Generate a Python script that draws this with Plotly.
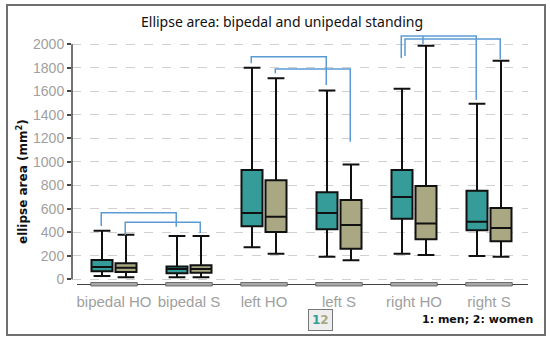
import plotly.graph_objects as go

# ---------------- data ----------------
categories = ["bipedal HO", "bipedal S", "left HO", "left S", "right HO", "right S"]
series_names = ["men", "women"]

men_lower = [28, 17, 272, 193, 218, 198]
men_q1 = [68, 51, 451, 425, 516, 417]
men_median = [105, 88, 564, 564, 700, 490]
men_q3 = [164, 110, 930, 740, 930, 754]
men_upper = [414, 368, 1801, 1608, 1622, 1494]

women_lower = [17, 17, 218, 162, 207, 193]
women_q1 = [62, 56, 403, 260, 340, 323]
women_median = [99, 88, 533, 462, 476, 437]
women_q3 = [136, 119, 843, 675, 794, 607]
women_upper = [380, 368, 1711, 978, 1988, 1860]

# significance brackets: (cat_a, series_a, cat_b, series_b, top, end_a, end_b)
brackets = [
    (0, 0, 1, 0, 567, 454, 448),
    (0, 1, 1, 1, 485, 377, 391),
    (2, 0, 3, 0, 1894, 1838, 1654),
    (2, 1, 3, 1, 1790, 1753, 1171),
    (4, 0, 5, 0, 2071, 1883, 1526),
    (4, 0, 5, 1, 2045, 1900, 1875),
]

y_ticks = list(range(0, 2001, 200))

# ---------------- style ----------------
TEAL = "#359c9a"
KHAKI = "#a9a883"
colors = [TEAL, KHAKI]
offsets = [-0.16, 0.16]
bracket_off = [-0.17, 0.15]

fig = go.Figure()

stats = [
    (men_lower, men_q1, men_median, men_q3, men_upper),
    (women_lower, women_q1, women_median, women_q3, women_upper),
]
for s, (lo, q1, med, q3, up) in enumerate(stats):
    fig.add_trace(go.Box(
        name=series_names[s],
        x=[i + offsets[s] for i in range(len(categories))],
        lowerfence=lo, q1=q1, median=med, q3=q3, upperfence=up,
        width=0.28, whiskerwidth=0.8,
        fillcolor=colors[s],
        line=dict(color="#111111", width=2),
        boxpoints=False, hoverinfo="skip", showlegend=False,
    ))

# brackets
for (ca, sa, cb, sb, top, ea, eb) in brackets:
    xa = ca + bracket_off[sa] + (0.05 if (ca == 4 and sb == 1) else 0)
    xb = cb + bracket_off[sb]
    fig.add_trace(go.Scatter(
        x=[xa, xa, xb, xb], y=[ea, top, top, eb], mode="lines",
        line=dict(color="#5b9bd5", width=1.5), hoverinfo="skip", showlegend=False,
    ))
# extra short tick at right HO women
fig.add_trace(go.Scatter(
    x=[4 + 0.12, 4 + 0.12], y=[2071, 2002], mode="lines",
    line=dict(color="#5b9bd5", width=1.5), hoverinfo="skip", showlegend=False,
))

shapes = []
# outer border
shapes.append(dict(type="rect", xref="paper", yref="paper",
                   x0=(7 - 72) / 456, x1=(545 - 72) / 456,
                   y0=(286 - 335) / 258, y1=(286 - 5) / 258,
                   line=dict(color="#6f6f6f", width=2), layer="below"))
# y axis line (0 .. 2000)
shapes.append(dict(type="line", xref="paper", yref="y", x0=0, x1=0,
                   y0=0, y1=2000, line=dict(color="#444", width=1.5)))
# x axis line
shapes.append(dict(type="line", xref="paper", yref="paper",
                   x0=(77 - 72) / 456, x1=1, y0=(286 - 284.5) / 258, y1=(286 - 284.5) / 258,
                   line=dict(color="#444", width=1)))
# category bars on x axis
for i in range(len(categories)):
    shapes.append(dict(type="rect", xref="x", yref="paper",
                       x0=i - 0.31, x1=i + 0.31,
                       y0=(286 - 286) / 258, y1=(286 - 282.5) / 258,
                       fillcolor="#a8a8a8", line=dict(color="#555", width=0.8)))

annotations = [
    dict(text="Ellipse area: bipedal and unipedal standing", xref="paper", yref="paper",
         x=(282 - 72) / 456, y=(286 - 22) / 258, showarrow=False,
         font=dict(family="Noto Sans", size=14, color="#111"), xanchor="center", yanchor="middle"),
    dict(text="ellipse area (mm<sup>2</sup>)", xref="paper", yref="paper",
         x=(22 - 72) / 456, y=(286 - 182) / 258, showarrow=False, textangle=-90,
         font=dict(family="DejaVu Sans", size=12, color="#111", weight="bold"),
         xanchor="center", yanchor="middle"),
    dict(text="1: men; 2: women", xref="paper", yref="paper",
         x=(535 - 72) / 456, y=(286 - 319) / 258, showarrow=False,
         font=dict(family="DejaVu Sans", size=11, color="#111", weight="bold"),
         xanchor="right", yanchor="middle"),
    dict(text=f"<span style='color:{TEAL}'>1</span><span style='color:{KHAKI}'>2</span>",
         xref="paper", yref="paper",
         x=(320 - 72) / 456, y=(286 - 320) / 258, showarrow=False,
         font=dict(family="DejaVu Sans", size=12, weight="bold"),
         bgcolor="#eeeeee", bordercolor="#777", borderwidth=1, borderpad=3,
         xanchor="center", yanchor="middle"),
]

fig.update_layout(
    width=550, height=342,
    margin=dict(l=72, r=22, t=28, b=56),
    paper_bgcolor="white", plot_bgcolor="white",
    shapes=shapes, annotations=annotations,
    showlegend=False,
    xaxis=dict(range=[-0.56, 5.52], tickvals=list(range(len(categories))), ticktext=categories,
               showgrid=False, zeroline=False, showline=False, ticks="outside", ticklen=2,
               tickcolor="rgba(0,0,0,0)",
               tickfont=dict(family="Liberation Sans", size=15, color="#a0a0a0")),
    yaxis=dict(range=[-57, 2139], tickvals=y_ticks, ticks="outside", ticklen=4,
               tickcolor="#444", tickwidth=1.5,
               showgrid=True, gridcolor="#d0d0d0", griddash="dash", gridwidth=1,
               zeroline=False, showline=False,
               tickfont=dict(family="Liberation Sans", size=14, color="#a0a0a0")),
)

fig.write_html("out.html", config={"displayModeBar": False},
               post_script="document.body.style.margin='0';document.body.style.overflow='hidden';")
